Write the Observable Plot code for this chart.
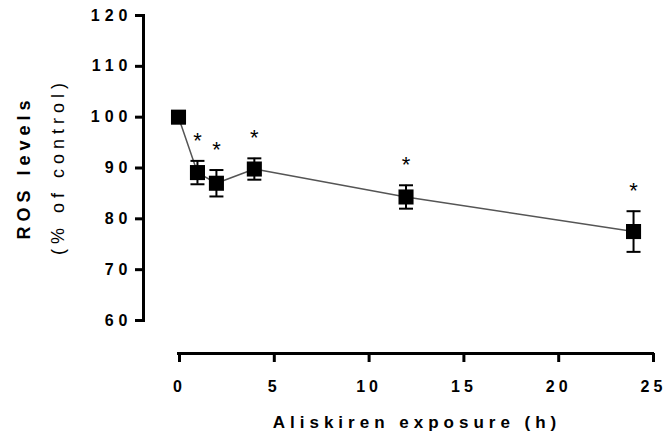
<!DOCTYPE html>
<html>
<head>
<meta charset="utf-8">
<script src="https://cdn.jsdelivr.net/npm/d3@7"></script>
<script src="https://cdn.jsdelivr.net/npm/@observablehq/plot@0.6"></script>
<style>
  html, body { margin: 0; padding: 0; background: white; }
</style>
</head>
<body>
<div id="chart"></div>
<script>
const hours = [0, 1, 2, 4, 12, 24];
const rosMean = [100, 89.1, 87.0, 89.8, 84.3, 77.5];
const rosSem = [0.8, 2.3, 2.6, 2.1, 2.3, 4.0];
const significant = [false, true, true, true, true, true];
const xTicks = [0, 5, 10, 15, 20, 25];
const yTicks = [60, 70, 80, 90, 100, 110, 120];
const xTitle = "Aliskiren exposure (h)";
const yTitle = "ROS levels";
const ySubtitle = "(% of control)";

const rows = hours.map((h, i) => ({
  h, mean: rosMean[i], lo: rosMean[i] - rosSem[i], hi: rosMean[i] + rosSem[i], sig: significant[i]
}));

const capSymbol = {
  draw(ctx, size) {
    const w = Math.sqrt(size) / 2;
    ctx.moveTo(-w, 0);
    ctx.lineTo(w, 0);
  }
};

const chart = Plot.plot({
  width: 666,
  height: 435,
  marginLeft: 143,
  marginRight: 14,
  marginTop: 15,
  marginBottom: 82,
  style: {
    fontFamily: "'Liberation Sans', Arial, sans-serif",
    fontSize: "16px",
    fontWeight: "bold",
    letterSpacing: "5px",
    color: "black",
    background: "white"
  },
  x: {domain: [0, 25], insetLeft: 35},
  y: {domain: [60, 120], insetBottom: 33},
  marks: [
    Plot.frame({anchor: "left", insetBottom: 33, strokeWidth: 3, stroke: "black"}),
    Plot.frame({anchor: "bottom", insetLeft: 35, strokeWidth: 3, stroke: "black"}),
    Plot.axisY({ticks: yTicks, tickSize: 8, tickPadding: 3, strokeWidth: 3, label: null, fontSize: 16}),
    Plot.axisX({ticks: xTicks, tickSize: 9, tickPadding: 18, strokeWidth: 3, label: null, fontSize: 16, dx: 1}),
    Plot.line(rows, {x: "h", y: "mean", stroke: "#555", strokeWidth: 1.5}),
    Plot.ruleX(rows, {x: "h", y1: "lo", y2: "hi", stroke: "black", strokeWidth: 2}),
    Plot.dot(rows, {x: "h", y: "hi", symbol: capSymbol, r: 7.9, stroke: "black", strokeWidth: 2, fill: "none"}),
    Plot.dot(rows, {x: "h", y: "lo", symbol: capSymbol, r: 7.9, stroke: "black", strokeWidth: 2, fill: "none"}),
    Plot.dot(rows, {x: "h", y: "mean", symbol: "square", r: 8.5, fill: "black", stroke: "none"}),
    Plot.text(rows.filter(d => d.sig), {x: "h", y: "hi", text: () => "*", dy: -20, dx: 2.5, fontSize: 22, fontWeight: "normal", lineAnchor: "middle"}),
    Plot.text([yTitle], {frameAnchor: "left", textAnchor: "middle", rotate: -90, dx: -119, dy: -17, fontSize: 18, lineAnchor: "middle"}),
    Plot.text([ySubtitle], {frameAnchor: "left", textAnchor: "middle", rotate: -90, dx: -85, dy: -18, fontSize: 18, fontWeight: "normal", lineAnchor: "middle"}),
    Plot.text([xTitle], {frameAnchor: "bottom", textAnchor: "middle", dx: 19, dy: 69, fontSize: 17, lineAnchor: "middle"})
  ]
});

d3.select(chart).selectAll('[aria-label="x-axis tick label"] text').style("letter-spacing", "4px");

document.getElementById("chart").appendChild(chart);
</script>
</body>
</html>
